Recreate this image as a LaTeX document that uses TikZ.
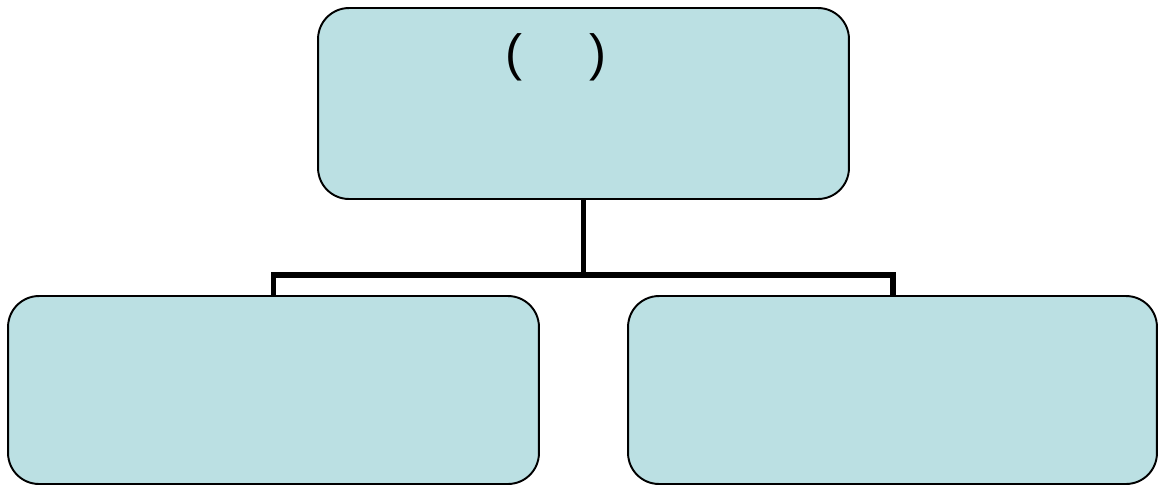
\documentclass[tikz,border=0pt]{standalone}
\usepackage{fontspec}
\setmainfont{Liberation Sans}
\definecolor{boxfill}{HTML}{BBE0E3}
\begin{document}
\begin{tikzpicture}[x=0.02cm,y=-0.02cm,
		box/.style={draw,rounded corners=0.62cm,fill=boxfill,line width=1.1pt,minimum width=10.62cm},
		conn/.style={line width=3.4pt,line join=miter}]
		\useasboundingbox (0,0) rectangle (1159,488);

		\node[box,minimum height=3.82cm] (top) at (583.5,103.5) {};
		\node[box,minimum height=3.76cm] (left) at (273.5,390) {};
		\node[box,minimum height=3.76cm,minimum width=10.58cm] (right) at (892.5,390) {};
		\node[font=\fontsize{29}{34}\selectfont,inner sep=0pt] (title) at (556,57) {(\hspace{1.35cm})};

		\coordinate (join) at (583.5,275);
		\draw[conn] (top.south) -- (join);
		\draw[conn] (left.north) |- (join) -| (right.north);
	\end{tikzpicture}
\end{document}
